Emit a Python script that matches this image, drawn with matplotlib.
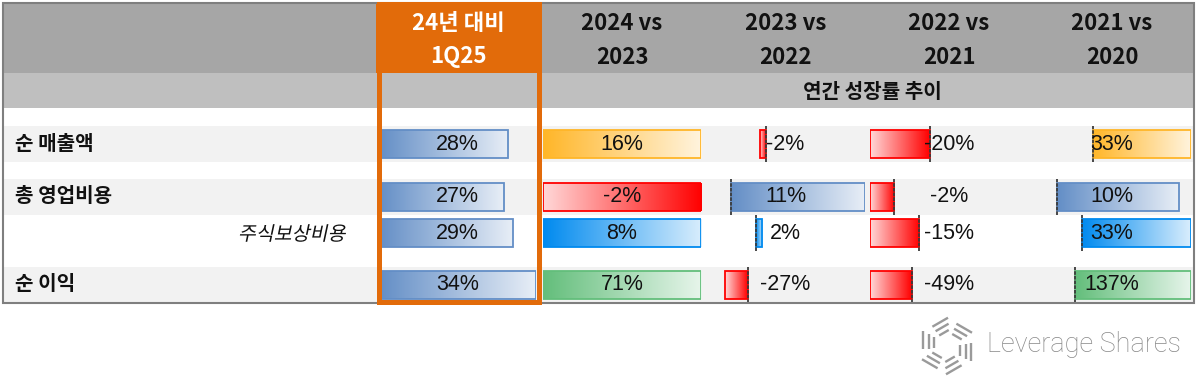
import numpy as np
import matplotlib
matplotlib.use("Agg")
import matplotlib.pyplot as plt
from matplotlib.patches import Rectangle, PathPatch
from matplotlib.colors import LinearSegmentedColormap, to_rgb
from matplotlib.textpath import TextPath
from matplotlib.font_manager import FontProperties
from matplotlib.transforms import Affine2D

plt.rcParams['font.family'] = ['Noto Sans CJK KR', 'DejaVu Sans']

# data
row_labels = ['순 매출액', '총 영업비용', '주식보상비용', '순 이익']
head_top = ['24년 대비', '2024 vs', '2023 vs', '2022 vs', '2021 vs']
head_bot = ['1Q25', '2023', '2022', '2021', '2020']
sub_header = '연간 성장률 추이'
q1_25 = [28, 27, 29, 34]
g2024 = [16, -2, 8, 71]
g2023 = [-2, 11, 2, -27]
g2022 = [-20, -2, -15, -49]
g2021 = [33, 10, 33, 137]
columns = [q1_25, g2024, g2023, g2022, g2021]

# styles
row_pos_colors = ['#ffb628', '#638ec6', '#008aef', '#63be7b']
first_col_color = '#638ec6'
neg_color = '#ff0000'
orange = '#e26b0a'

W, H = 1200, 380
fig = plt.figure(figsize=(12, 3.8), dpi=100)
bg = fig.add_axes([0, 0, 1, 1])
bg.set_xlim(0, W)
bg.set_ylim(H, 0)
bg.axis('off')

# layout (pixels)
tbl_l, tbl_r, tbl_t, tbl_b = 3, 1194, 3, 303
col_left = [379, 543, 706.5, 870, 1033]
col_w = [157, 158, 158, 158, 158]
col_center = [458.5, 622, 785.5, 949, 1112]
row_top = [126, 179, 215, 267]
row_h = 36
shaded = [True, True, False, True]

bg.add_patch(Rectangle((tbl_l, tbl_t), tbl_r - tbl_l, 70, fc='#a6a6a6', ec='none'))
bg.add_patch(Rectangle((tbl_l, 73), tbl_r - tbl_l, 35, fc='#bfbfbf', ec='none'))
for t, s in zip(row_top, shaded):
    if s:
        bg.add_patch(Rectangle((tbl_l, t), tbl_r - tbl_l, row_h, fc='#f2f2f2', ec='none'))
bg.add_patch(Rectangle((376, tbl_t), 165, 70, fc=orange, ec='none'))

for i in range(5):
    c = 'white' if i == 0 else '#111111'
    bg.text(col_center[i], 24, head_top[i], ha='center', va='center',
            fontsize=16, fontweight='bold', color=c)
    bg.text(col_center[i], 57, head_bot[i], ha='center', va='center',
            fontsize=16, fontweight='bold', color=c)
bg.text(872, 91, sub_header, ha='center', va='center', fontsize=14.5,
        fontweight='bold', color='#111111')

for i, lab in enumerate(row_labels):
    yc = row_top[i] + row_h / 2
    if i == 2:
        # italic look for the sub item: skewed text path
        fp = FontProperties(family='Noto Sans CJK KR', weight='normal')
        tp = TextPath((0, 0), lab, size=19.5, prop=fp)
        ext = tp.get_extents()
        tr = (Affine2D().translate(-ext.x1, -(ext.y0 + ext.y1) / 2)
              .skew_deg(12, 0).scale(1, -1).translate(346, yc))
        bg.add_patch(PathPatch(tr.transform_path(tp), fc='#111111', ec='none'))
    else:
        bg.text(15, yc - 1, lab, ha='left', va='center', fontsize=14.5,
                fontweight='bold', color='#111111')


def light(c, f=0.85):
    r = np.array(to_rgb(c))
    return tuple(r + (1 - r) * f)


# data bar cells
bar_h = 28 / row_h
for ci, vals in enumerate(columns):
    for ri, v in enumerate(vals):
        if ci == 0:
            lo, hi = 0, max(q1_25)
        elif ci == 1:
            lo, hi = min(0, v), max(0, v)
        else:
            rv = [columns[k][ri] for k in (2, 3, 4)]
            lo, hi = min(rv), max(rv)
        if v < 0:
            col = neg_color
        elif ci == 0:
            col = first_col_color
        else:
            col = row_pos_colors[ri]
        ax = fig.add_axes([col_left[ci] / W, 1 - (row_top[ri] + row_h) / H,
                           col_w[ci] / W, row_h / H])
        ax.patch.set_alpha(0)
        cmap = LinearSegmentedColormap.from_list('g', [col, light(col)])
        grad = np.linspace(0, 1, 256).reshape(1, -1)
        ax.imshow(grad, cmap=cmap, aspect='auto', interpolation='bilinear',
                  extent=(0, v, -bar_h / 2, bar_h / 2), zorder=1)
        ax.barh(0, v, height=bar_h, fill=False, edgecolor=col, lw=1.3, zorder=2)
        if ci >= 2:
            ax.axvline(0, color='#3a3a3a', lw=1.3, ls=(0, (2, 0.6)), zorder=3)
        ax.set_xlim(lo, hi)
        ax.set_ylim(-0.5, 0.5)
        ax.axis('off')
        ax.text(0.5, 0.5, f'{v}%', transform=ax.transAxes, ha='center',
                va='center', fontsize=15.5, color='#111111', zorder=4,
                family=['Liberation Sans', 'DejaVu Sans'])

# borders on top
top = fig.add_axes([0, 0, 1, 1])
top.patch.set_alpha(0)
top.set_xlim(0, W)
top.set_ylim(H, 0)
top.axis('off')
top.add_patch(Rectangle((tbl_l, tbl_t), tbl_r - tbl_l, tbl_b - tbl_t, fill=False,
                        ec='#7f7f7f', lw=1.5))
top.add_patch(Rectangle((378.5, tbl_t + 1), 160, tbl_b - tbl_t - 2.5, fill=False,
                        ec=orange, lw=3.6))

# logo: pinwheel of short parallel strokes
cx, cy = 947, 346
for k in range(6):
    th = np.deg2rad(60 * k)
    rad = np.array([np.cos(th), np.sin(th)])
    tan = np.array([-np.sin(th), np.cos(th)])
    for r, ln, off in [(13, 11, 4), (18.5, 15, 5), (24, 18, 6)]:
        mid = np.array([cx, cy]) + rad * r + tan * off
        p0, p1 = mid - tan * ln / 2, mid + tan * ln / 2
        top.plot([p0[0], p1[0]], [p0[1], p1[1]], color='#9a9a9a', lw=1.7,
                 solid_capstyle='butt')
top.text(987, 345, 'Leverage Shares', ha='left', va='center', fontsize=19.5,
         color='#888888', family=['Roboto', 'DejaVu Sans'], fontweight='light')

fig.savefig('out.png', dpi=100)
